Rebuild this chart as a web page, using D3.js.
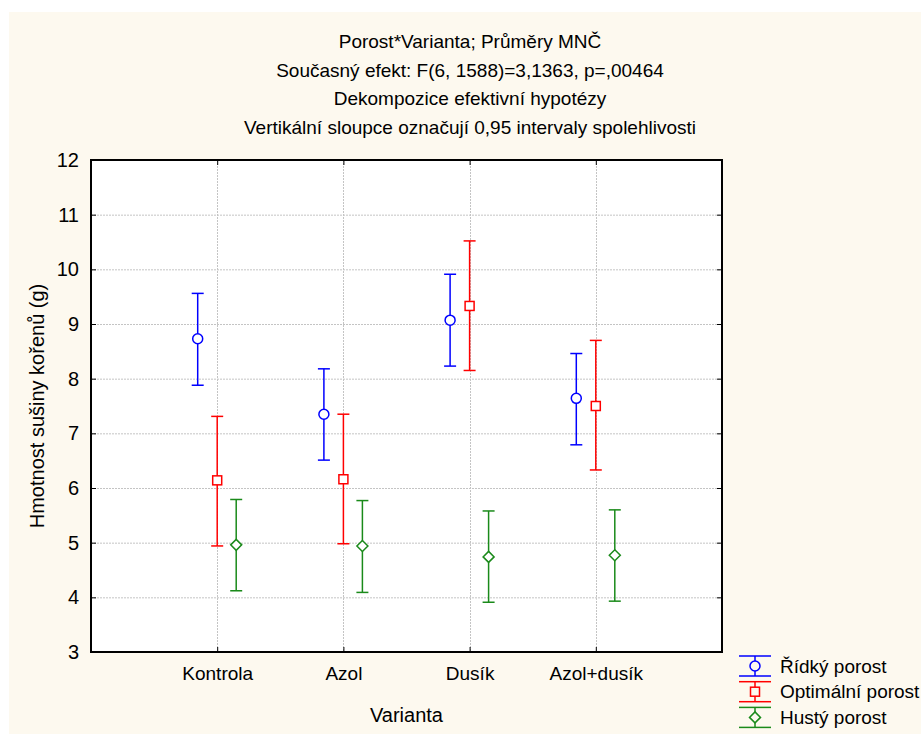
<!DOCTYPE html>
<html><head><meta charset="utf-8">
<script src="https://cdn.jsdelivr.net/npm/d3@7"></script>
<style>body{margin:0;background:#fff;} svg{display:block;font-family:"Liberation Sans",Arial,sans-serif;}</style>
</head><body>
<script>
const categories = ["Kontrola","Azol","Dusík","Azol+dusík"];
const seriesNames = ["Řídký porost","Optimální porost","Hustý porost"];
const seriesColors = ["#0000ff","#ff0000","#1a8a1a"];
const meanRidky = [8.73, 7.35, 9.07, 7.64];
const lowRidky = [7.88, 6.51, 8.23, 6.79];
const highRidky = [9.56, 8.18, 9.91, 8.46];
const meanOptim = [6.14, 6.16, 9.33, 7.50];
const lowOptim = [4.94, 4.98, 8.15, 6.33];
const highOptim = [7.31, 7.35, 10.52, 8.70];
const meanHusty = [4.96, 4.94, 4.74, 4.77];
const lowHusty = [4.12, 4.09, 3.91, 3.93];
const highHusty = [5.79, 5.77, 5.58, 5.60];
const yTicks = [3,4,5,6,7,8,9,10,11,12];
const titleLines = ["Porost*Varianta; Průměry MNČ","Současný efekt: F(6, 1588)=3,1363, p=,00464","Dekompozice efektivní hypotézy","Vertikální sloupce označují 0,95 intervaly spolehlivosti"];
const xTitle = "Varianta";
const yTitle = "Hmotnost sušiny kořenů (g)";

const series = [
  {mean: meanRidky, low: lowRidky, high: highRidky, shape: "circle"},
  {mean: meanOptim, low: lowOptim, high: highOptim, shape: "square"},
  {mean: meanHusty, low: lowHusty, high: highHusty, shape: "diamond"}
];

const W = 921, H = 734;
const L = 91, R = 722, T = 160, B = 652;
const svg = d3.select("body").append("svg").attr("width", W).attr("height", H);
svg.append("rect").attr("x", 9).attr("y", 12).attr("width", W - 9).attr("height", H - 12).attr("fill", "#fdf9ef");
svg.append("rect").attr("x", L).attr("y", T).attr("width", R - L).attr("height", B - T).attr("fill", "#fff");

const x = d3.scalePoint().domain(["", ...categories, " "]).range([L, R]);
const y = d3.scaleLinear().domain([3, 12]).range([B, T]);
const offsets = [-19.5, 0, 19];

// grid
const g = svg.append("g");
g.selectAll(".hg").data(yTicks.filter(t => t > 3 && t < 12)).enter().append("line")
  .attr("x1", L).attr("x2", R).attr("y1", d => y(d) + 0.5).attr("y2", d => y(d) + 0.5)
  .attr("stroke", "#c4c4c4").attr("stroke-width", 1).attr("stroke-dasharray", "2,1");
g.selectAll(".vg").data(categories).enter().append("line")
  .attr("y1", T).attr("y2", B).attr("x1", d => Math.round(x(d)) + 0.5).attr("x2", d => Math.round(x(d)) + 0.5)
  .attr("stroke", "#c4c4c4").attr("stroke-width", 1).attr("stroke-dasharray", "2,1");

// axes
const yAxis = d3.axisLeft(y).tickValues(yTicks).tickSize(-5).tickPadding(12);
const ya = svg.append("g").attr("transform", `translate(${L},0)`).call(yAxis);
ya.select(".domain").remove();
ya.selectAll("text").attr("font-size", 20).attr("fill", "#000").attr("font-family", "Liberation Sans, Arial, sans-serif");
ya.selectAll("line").attr("stroke", "#000");
const yAxisR = d3.axisRight(y).tickValues(yTicks).tickSize(-5).tickFormat("");
const yr = svg.append("g").attr("transform", `translate(${R},0)`).call(yAxisR);
yr.select(".domain").remove(); yr.selectAll("line").attr("stroke", "#000");

const xAxis = d3.axisBottom(x).tickValues(categories).tickSize(-5).tickPadding(15);
const xa = svg.append("g").attr("transform", `translate(0,${B})`).call(xAxis);
xa.select(".domain").remove();
xa.selectAll("text").attr("font-size", 19).attr("fill", "#000").attr("font-family", "Liberation Sans, Arial, sans-serif");
xa.selectAll("line").attr("stroke", "#000");
const xAxisT = d3.axisTop(x).tickValues(categories).tickSize(-5).tickFormat("");
const xt = svg.append("g").attr("transform", `translate(0,${T})`).call(xAxisT);
xt.select(".domain").remove(); xt.selectAll("line").attr("stroke", "#000");

svg.append("rect").attr("x", L).attr("y", T).attr("width", R - L).attr("height", B - T)
  .attr("fill", "none").attr("stroke", "#000").attr("stroke-width", 2);

// marker drawing
function marker(sel, shape, cx, cy, color) {
  if (shape === "circle") {
    sel.append("circle").attr("cx", cx).attr("cy", cy).attr("r", 5).attr("fill", "none").attr("stroke", color).attr("stroke-width", 1.5);
  } else if (shape === "square") {
    sel.append("rect").attr("x", cx - 4.5).attr("y", cy - 4.5).attr("width", 9).attr("height", 9).attr("fill", "none").attr("stroke", color).attr("stroke-width", 1.5);
  } else {
    sel.append("path").attr("d", `M${cx},${cy - 5.5}L${cx + 5.5},${cy}L${cx},${cy + 5.5}L${cx - 5.5},${cy}Z`).attr("fill", "none").attr("stroke", color).attr("stroke-width", 1.5);
  }
}

// error bars
series.forEach((s, si) => {
  const col = seriesColors[si];
  const gs = svg.append("g");
  categories.forEach((c, ci) => {
    const cx = x(c) + offsets[si];
    const cap = 6;
    gs.append("line").attr("x1", cx).attr("x2", cx).attr("y1", y(s.high[ci])).attr("y2", y(s.low[ci])).attr("stroke", col).attr("stroke-width", 1.5);
    gs.append("line").attr("x1", cx - cap).attr("x2", cx + cap).attr("y1", y(s.high[ci])).attr("y2", y(s.high[ci])).attr("stroke", col).attr("stroke-width", 1.5);
    gs.append("line").attr("x1", cx - cap).attr("x2", cx + cap).attr("y1", y(s.low[ci])).attr("y2", y(s.low[ci])).attr("stroke", col).attr("stroke-width", 1.5);
    const mg = gs.append("g");
    marker(mg, s.shape, cx, y(s.mean[ci]), col);
    mg.selectAll("*").attr("fill", "#fff");
  });
});

// titles
titleLines.forEach((t, i) => {
  svg.append("text").attr("x", 470).attr("y", 48 + i * 28.5).attr("text-anchor", "middle")
    .attr("font-size", 19).attr("fill", "#000").text(t);
});
svg.append("text").attr("x", (L + R) / 2).attr("y", 722).attr("text-anchor", "middle").attr("font-size", 20).text(xTitle);
svg.append("text").attr("transform", `translate(44,${(T + B) / 2}) rotate(-90)`).attr("text-anchor", "middle").attr("font-size", 20).text(yTitle);

// legend
const lg = svg.append("g");
seriesNames.forEach((n, i) => {
  const yc = 666 + i * 25.7;
  const col = seriesColors[i];
  const x0 = 739, x1 = 771, xm = (x0 + x1) / 2;
  lg.append("line").attr("x1", x0).attr("x2", x1).attr("y1", yc - 10).attr("y2", yc - 10).attr("stroke", col).attr("stroke-width", 1.5);
  lg.append("line").attr("x1", x0).attr("x2", x1).attr("y1", yc + 10).attr("y2", yc + 10).attr("stroke", col).attr("stroke-width", 1.5);
  lg.append("line").attr("x1", xm).attr("x2", xm).attr("y1", yc - 10).attr("y2", yc + 10).attr("stroke", col).attr("stroke-width", 1.5);
  const mg = lg.append("g");
  marker(mg, series[i].shape, xm, yc, col);
  mg.selectAll("*").attr("fill", "#fdf9ef");
  lg.append("text").attr("x", 780).attr("y", yc + 6.5).attr("font-size", 19).text(n);
});
</script>
</body></html>
